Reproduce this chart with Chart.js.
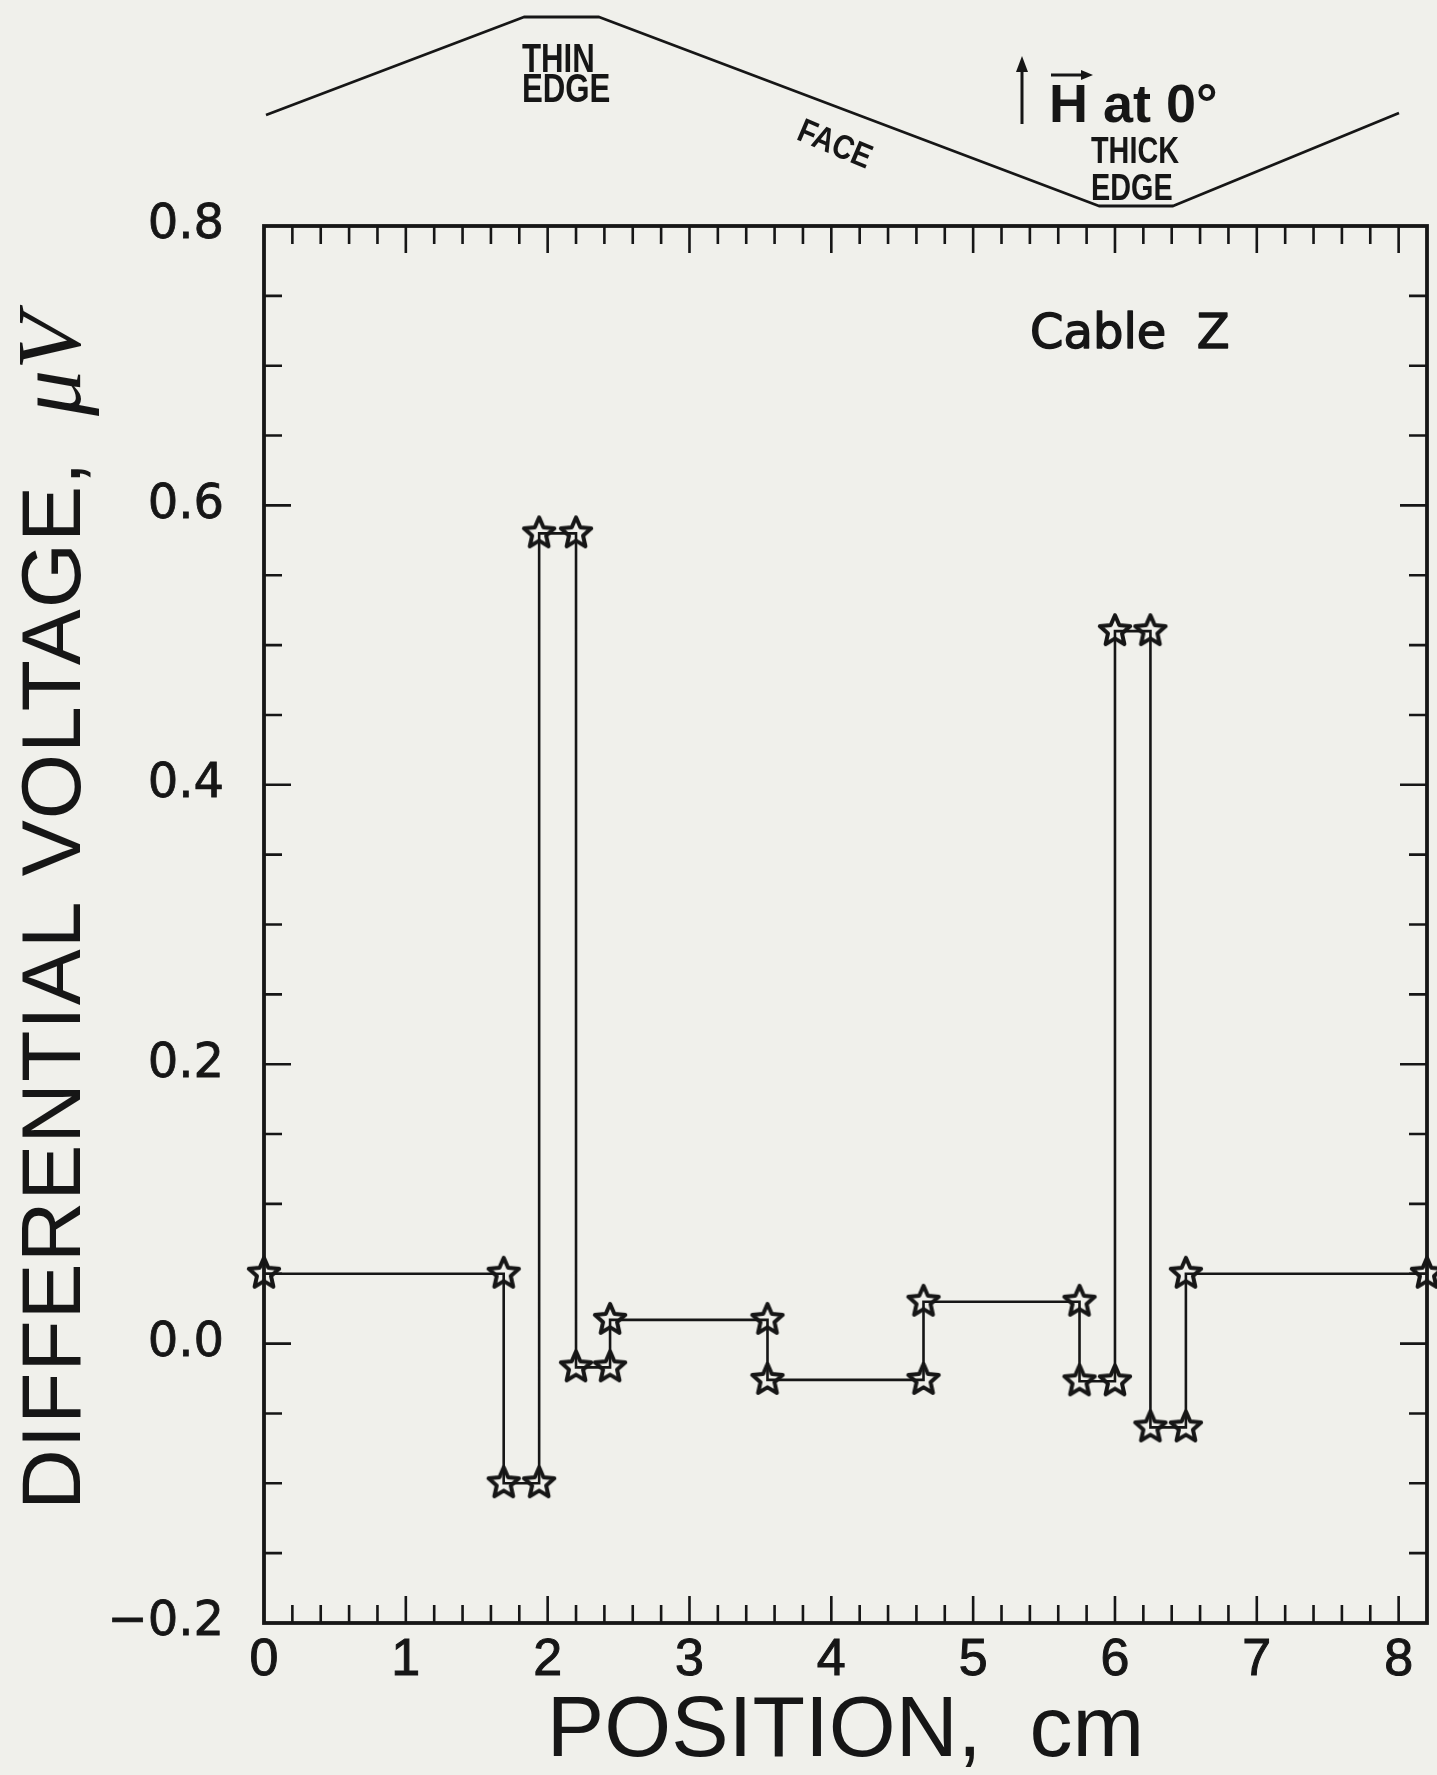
<!DOCTYPE html>
<html>
<head>
<meta charset="utf-8">
<script src="https://cdn.jsdelivr.net/npm/chart.js@4.4.1/dist/chart.umd.min.js"></script>
<style>
  html, body { margin: 0; padding: 0; background: #f0f0eb; }
  #wrap { width: 1437px; height: 1775px; }
  canvas { display: block; }
</style>
</head>
<body>
<div id="wrap"><canvas id="plot" width="1437" height="1775"></canvas></div>
<script>
// values (Cable Z)
const positions = [0, 1.69, 1.69, 1.94, 1.94, 2.20, 2.20, 2.44, 2.44, 3.55, 3.55, 4.65, 4.65, 5.75, 5.75, 6.00, 6.00, 6.25, 6.25, 6.50, 6.50, 8.2];
const voltages = [0.05, 0.05, -0.10, -0.10, 0.58, 0.58, -0.017, -0.017, 0.017, 0.017, -0.026, -0.026, 0.030, 0.030, -0.027, -0.027, 0.51, 0.51, -0.060, -0.060, 0.05, 0.05];
const xTickLabels = ["0", "1", "2", "3", "4", "5", "6", "7", "8"];
const yTickLabels = ["\u22120.2", "0.0", "0.2", "0.4", "0.6", "0.8"];

const ink = "#161616";
const sans = "'Liberation Sans', Arial, sans-serif";

// open five-point star used as marker
function makeStar(size) {
  const c = document.createElement("canvas");
  c.width = size; c.height = size;
  const g = c.getContext("2d");
  const R = size / 2 - 3, r = R * 0.46;
  g.translate(size / 2, size / 2);
  g.beginPath();
  for (let k = 0; k < 10; k++) {
    const ang = -Math.PI / 2 + k * Math.PI / 5;
    const rad = k % 2 === 0 ? R : r;
    const px = Math.cos(ang) * rad, py = Math.sin(ang) * rad;
    if (k === 0) g.moveTo(px, py); else g.lineTo(px, py);
  }
  g.closePath();
  g.lineWidth = 4;
  g.lineJoin = "round";
  g.strokeStyle = ink;
  g.stroke();
  return c;
}
const star = makeStar(38);

function squeezed(ctx, text, x, y, size, sx) {
  ctx.save();
  ctx.translate(x, y);
  ctx.scale(sx, 1);
  ctx.font = "bold " + size + "px " + sans;
  ctx.fillText(text, 0, 0);
  ctx.restore();
}

// box and inward ticks on all four sides
const framePlugin = {
  id: "frame",
  beforeDatasetsDraw(chart) {
    const { ctx, chartArea: a, scales: { x, y } } = chart;
    ctx.save();
    ctx.strokeStyle = ink;
    ctx.lineWidth = 2.6;
    ctx.beginPath();
    for (let i = 1; i <= 40; i++) {
      const px = x.getPixelForValue(i * 0.2);
      const len = i % 5 === 0 ? 27 : 18;
      ctx.moveTo(px, a.bottom); ctx.lineTo(px, a.bottom - len);
      ctx.moveTo(px, a.top); ctx.lineTo(px, a.top + len);
    }
    for (let i = 1; i < 20; i++) {
      const py = y.getPixelForValue(-0.2 + i * 0.05);
      const len = i % 4 === 0 ? 27 : 18;
      ctx.moveTo(a.left, py); ctx.lineTo(a.left + len, py);
      ctx.moveTo(a.right, py); ctx.lineTo(a.right - len, py);
    }
    ctx.stroke();
    ctx.lineWidth = 3.8;
    ctx.strokeRect(a.left, a.top, a.right - a.left, a.bottom - a.top);
    ctx.restore();
  }
};

// cable cross-section sketch, labels and y title
const notesPlugin = {
  id: "notes",
  afterDraw(chart) {
    const { ctx } = chart;
    ctx.save();
    ctx.strokeStyle = ink;
    ctx.fillStyle = ink;
    ctx.lineWidth = 2.8;
    ctx.lineJoin = "round";
    const profile = [[266, 115], [524, 17], [599, 17], [1099, 206], [1173, 206], [1399, 113]];
    ctx.beginPath();
    profile.forEach((p, i) => i ? ctx.lineTo(p[0], p[1]) : ctx.moveTo(p[0], p[1]));
    ctx.stroke();

    ctx.textBaseline = "alphabetic";
    squeezed(ctx, "THIN", 522, 72, 40, 0.78);
    squeezed(ctx, "EDGE", 522, 102, 40, 0.78);
    squeezed(ctx, "THICK", 1091, 163, 36, 0.8);
    squeezed(ctx, "EDGE", 1091, 200, 36, 0.8);

    ctx.save();
    ctx.translate(800, 128);
    ctx.rotate(0.4);
    squeezed(ctx, "FACE", 0, 12, 34, 0.85);
    ctx.restore();

    // field arrow and H vector
    ctx.lineWidth = 3;
    ctx.beginPath();
    ctx.moveTo(1022, 124); ctx.lineTo(1022, 68);
    ctx.stroke();
    ctx.beginPath();
    ctx.moveTo(1022, 56); ctx.lineTo(1016, 72); ctx.lineTo(1028, 72); ctx.closePath();
    ctx.fill();
    ctx.font = "bold 54px " + sans;
    ctx.fillText("H at 0\u00b0", 1049, 122);
    ctx.beginPath();
    ctx.moveTo(1051, 75); ctx.lineTo(1084, 75);
    ctx.stroke();
    ctx.beginPath();
    ctx.moveTo(1093, 75); ctx.lineTo(1081, 70); ctx.lineTo(1081, 80); ctx.closePath();
    ctx.fill();

    ctx.font = "48px 'DejaVu Sans', sans-serif";
    ctx.lineWidth = 1.4;
    ctx.fillText("Cable  Z", 1030, 348);
    ctx.strokeText("Cable  Z", 1030, 348);

    // y title
    ctx.translate(80, 1510);
    ctx.rotate(-Math.PI / 2);
    ctx.font = "84px " + sans;
    ctx.letterSpacing = "1px";
    ctx.fillText("DIFFERENTIAL VOLTAGE,", 0, 0);
    ctx.letterSpacing = "0px";
    ctx.font = "italic 92px 'Liberation Serif', 'DejaVu Serif', serif";
    ctx.fillText("\u03bcV", 1094, 0);
    ctx.restore();
  }
};

new Chart(document.getElementById("plot"), {
  type: "scatter",
  data: {
    datasets: [{
      data: positions.map((p, i) => ({ x: p, y: voltages[i] })),
      showLine: true,
      borderColor: ink,
      borderWidth: 2.6,
      pointStyle: star,
      pointRadius: 15,
      pointHoverRadius: 15,
      tension: 0,
      fill: false,
      clip: false
    }]
  },
  options: {
    responsive: false,
    animation: false,
    devicePixelRatio: 1,
    layout: { autoPadding: false, padding: { top: 226, right: 10, bottom: 0, left: 0 } },
    plugins: { legend: { display: false }, tooltip: { enabled: false } },
    scales: {
      x: {
        type: "linear",
        min: 0,
        max: 8.2,
        afterFit: s => { s.height = 152; },
        grid: { display: false, drawTicks: false },
        border: { display: false },
        ticks: {
          stepSize: 1,
          includeBounds: false,
          autoSkip: false,
          maxRotation: 0,
          padding: 12,
          color: ink,
          textStrokeColor: ink,
          textStrokeWidth: 1,
          font: { family: sans, size: 52, lineHeight: 1 },
          callback: (v, i) => xTickLabels[i] ?? ""
        },
        title: {
          display: true,
          text: "POSITION,  cm",
          color: ink,
          padding: { top: 0, bottom: 0 },
          font: { family: sans, size: 86, lineHeight: 1 }
        }
      },
      y: {
        min: -0.2,
        max: 0.8,
        afterFit: s => { s.width = 264; },
        grid: { display: false, drawTicks: false },
        border: { display: false },
        ticks: {
          stepSize: 0.2,
          padding: 40,
          color: ink,
          textStrokeColor: ink,
          textStrokeWidth: 0.8,
          font: { family: "'DejaVu Sans', sans-serif", size: 48 },
          callback: (v, i) => yTickLabels[i] ?? ""
        }
      }
    }
  },
  plugins: [framePlugin, notesPlugin]
});
</script>
</body>
</html>
